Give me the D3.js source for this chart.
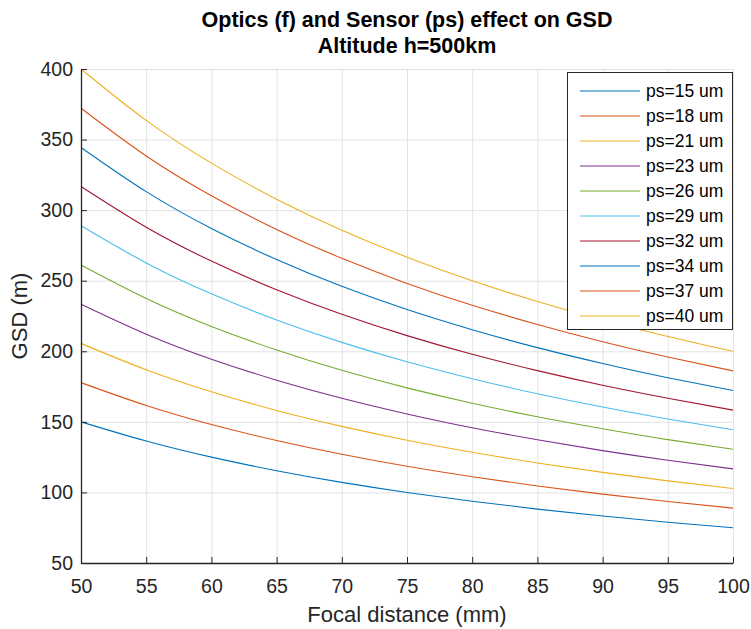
<!DOCTYPE html>
<html>
<head>
<meta charset="utf-8">
<script src="https://cdn.jsdelivr.net/npm/d3@7"></script>
<style>
html,body{margin:0;padding:0;background:#fff;}
svg{display:block;font-family:"Liberation Sans",Arial,Helvetica,sans-serif;}
</style>
</head>
<body>
<svg id="chart" width="751" height="629"></svg>
<script>
// Focal distance (mm) samples
const focal = [50, 55, 60, 65, 70, 75, 80, 85, 90, 95, 100];
// Series labels
const seriesNames = ["ps=15 um","ps=18 um","ps=21 um","ps=23 um","ps=26 um","ps=29 um","ps=32 um","ps=34 um","ps=37 um","ps=40 um"];
// GSD (m) values per series at each focal distance
const gsd15 = [150.0, 136.4, 125.0, 115.4, 107.1, 100.0, 93.8, 88.2, 83.3, 78.9, 75.0];
const gsd18 = [177.8, 161.6, 148.1, 136.8, 127.0, 118.5, 111.1, 104.6, 98.8, 93.6, 88.9];
const gsd21 = [205.6, 186.9, 171.3, 158.1, 146.8, 137.0, 128.5, 120.9, 114.2, 108.2, 102.8];
const gsd23 = [233.3, 212.1, 194.4, 179.5, 166.7, 155.6, 145.8, 137.3, 129.6, 122.8, 116.7];
const gsd26 = [261.1, 237.4, 217.6, 200.9, 186.5, 174.1, 163.2, 153.6, 145.1, 137.4, 130.6];
const gsd29 = [288.9, 262.6, 240.7, 222.2, 206.3, 192.6, 180.6, 169.9, 160.5, 152.0, 144.4];
const gsd32 = [316.7, 287.9, 263.9, 243.6, 226.2, 211.1, 197.9, 186.3, 175.9, 166.7, 158.3];
const gsd34 = [344.4, 313.1, 287.0, 265.0, 246.0, 229.6, 215.3, 202.6, 191.4, 181.3, 172.2];
const gsd37 = [372.2, 338.4, 310.2, 286.3, 265.9, 248.1, 232.6, 219.0, 206.8, 195.9, 186.1];
const gsd40 = [400.0, 363.6, 333.3, 307.7, 285.7, 266.7, 250.0, 235.3, 222.2, 210.5, 200.0];
const seriesValues = [gsd15, gsd18, gsd21, gsd23, gsd26, gsd29, gsd32, gsd34, gsd37, gsd40];
// Tick values
const xTicks = [50, 55, 60, 65, 70, 75, 80, 85, 90, 95, 100];
const yTicks = [50, 100, 150, 200, 250, 300, 350, 400];

const colors = ["#0072BD","#D95319","#EDB120","#7E2F8E","#77AC30","#4DBEEE","#A2142F","#0072BD","#D95319","#EDB120"];

const svg = d3.select("#chart");
const L = 81, R = 733, T = 69, B = 563;
const x = d3.scaleLinear().domain([50, 100]).range([L, R]);
const y = d3.scaleLinear().domain([50, 400]).range([B, T]);
const axisColor = "#262626";
const FONT = "Liberation Sans, Arial, sans-serif";

// grid
const grid = svg.append("g");
grid.selectAll("line.gx").data(xTicks).join("line")
  .attr("x1", d => x(d)+0.5).attr("x2", d => x(d)+0.5)
  .attr("y1", T).attr("y2", B)
  .attr("stroke", "#e3e3e3").attr("stroke-width", 1);
grid.selectAll("line.gy").data(yTicks).join("line")
  .attr("y1", d => y(d)+0.5).attr("y2", d => y(d)+0.5)
  .attr("x1", L).attr("x2", R)
  .attr("stroke", "#e3e3e3").attr("stroke-width", 1);

// lines
const line = d3.line().x((d,i) => x(focal[i])).y(d => y(d)).curve(d3.curveNatural);
svg.append("g").selectAll("path").data(seriesValues).join("path")
  .attr("d", d => line(d))
  .attr("fill", "none")
  .attr("stroke", (d,i) => colors[i])
  .attr("stroke-width", 1.1);

// axes
const xAxis = d3.axisBottom(x).tickValues(xTicks).tickSizeInner(-6).tickSizeOuter(0).tickPadding(16);
const gx = svg.append("g").attr("transform", `translate(0,${B})`).call(xAxis);
gx.select(".domain").attr("stroke", axisColor).attr("stroke-width", 1.3);
gx.selectAll(".tick line").attr("stroke", axisColor);
gx.selectAll(".tick text").attr("fill", axisColor).attr("font-size", 19.5).attr("font-family", FONT);

const yAxis = d3.axisLeft(y).tickValues(yTicks).tickSizeInner(-6).tickSizeOuter(0).tickPadding(8);
const gy = svg.append("g").attr("transform", `translate(${L},0)`).call(yAxis);
gy.select(".domain").attr("stroke", axisColor).attr("stroke-width", 1.3);
gy.selectAll(".tick line").attr("stroke", axisColor);
gy.selectAll(".tick text").attr("fill", axisColor).attr("font-size", 19.5).attr("font-family", FONT);

// labels
svg.append("text").attr("x", (L+R)/2).attr("y", 622).attr("text-anchor", "middle")
  .attr("font-size", 22).attr("fill", axisColor).text("Focal distance (mm)");
svg.append("text").attr("transform", `translate(27,${(T+B)/2}) rotate(-90)`).attr("text-anchor", "middle")
  .attr("font-size", 22).attr("fill", axisColor).text("GSD (m)");

// title
svg.append("text").attr("x", (L+R)/2).attr("y", 26.5).attr("text-anchor", "middle")
  .attr("font-size", 21.5).attr("font-weight", "bold").attr("fill", "#000").text("Optics (f) and Sensor (ps) effect on GSD");
svg.append("text").attr("x", (L+R)/2).attr("y", 52.5).attr("text-anchor", "middle")
  .attr("font-size", 21.5).attr("font-weight", "bold").attr("fill", "#000").text("Altitude h=500km");

// legend
const lg = svg.append("g");
lg.append("rect").attr("x", 567.5).attr("y", 72.5).attr("width", 165).attr("height", 257)
  .attr("fill", "#fff").attr("stroke", axisColor).attr("stroke-width", 1);
const rows = lg.selectAll("g.row").data(seriesNames).join("g")
  .attr("transform", (d,i) => `translate(0,${91 + i*25})`);
rows.append("line").attr("x1", 580).attr("x2", 640).attr("y1", 0).attr("y2", 0)
  .attr("stroke", (d,i) => colors[i]).attr("stroke-width", 1.1);
rows.append("text").attr("x", 646).attr("y", 6).attr("font-size", 17.5).attr("fill", "#000").text(d => d);
</script>
</body>
</html>
